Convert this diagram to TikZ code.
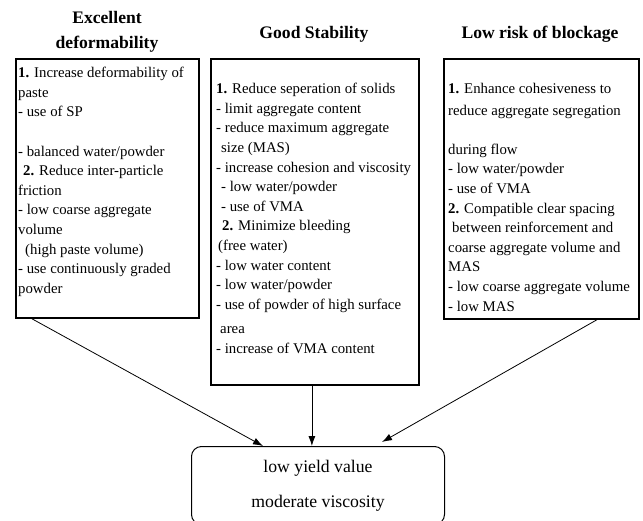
\documentclass[tikz,border=0pt]{standalone}
\usepackage{fontspec}
\setmainfont{Liberation Serif}
\usepackage{tikz}
\usetikzlibrary{arrows.meta,positioning,calc}

\begin{document}
\begin{tikzpicture}[>=Latex, x=1pt, y=1pt,
  panel/.style={draw, line width=1.8pt, inner sep=0pt, anchor=north west},
  heading/.style={font=\fontsize{17.6}{25}\selectfont\bfseries, align=center, inner sep=0pt},
  items/.style={font=\fontsize{14.8}{19.6}\selectfont, align=left, inner sep=0pt, anchor=north west},
  outcome/.style={draw, line width=1pt, rounded corners=10pt, anchor=north west,
    align=center, font=\fontsize{17.7}{35}\selectfont},
  link/.style={-{Latex[length=10pt,width=7pt]}, line width=0.8pt}]
  \useasboundingbox (0,0) rectangle (643,-520);
  \node[heading] (deftitle) at (107,-32) {Excellent\\deformability};
  \node[heading] (stabtitle) at (314,-34.5) {Good Stability};
  \node[heading] (blocktitle) at (540,-34.5) {Low risk of blockage};
  \node[panel, minimum width=183pt, minimum height=259pt] (defbox) at (15,-58) {};
  \node[panel, minimum width=208pt, minimum height=326pt] (stabbox) at (210,-58) {};
  \node[panel, minimum width=195pt, minimum height=260pt] (blockbox) at (443,-58) {};
  \node[items] (deftext) at (18,-67) {{\bfseries 1.} Increase deformability of\\
    paste\\
    - use of SP\\[19.6pt]
    - balanced water/powder\\
    \hspace*{5pt}{\bfseries 2.} Reduce inter-particle\\
    friction\\
    - low coarse aggregate\\
    volume\\
    \hspace*{7pt}(high paste volume)\\
    - use continuously graded\\
    powder};
  \node[items] (stabtext) at (216,-83) {{\bfseries 1.} Reduce seperation of solids\\
    - limit aggregate content\\
    - reduce maximum aggregate\\
    \hspace*{5pt}size (MAS)\\
    - increase cohesion and viscosity\\
    \hspace*{5pt}- low water/powder\\
    \hspace*{5pt}- use of VMA\\
    \hspace*{6pt}{\bfseries 2.} Minimize bleeding\\
    \hspace*{2pt}(free water)\\
    - low water content\\
    - low water/powder\\
    - use of powder of high surface\\[5pt]
    \hspace*{4pt}area\\
    - increase of VMA content};
  \node[items] (blocktext) at (448,-83) {{\bfseries 1.} Enhance cohesiveness to\\[2pt]
    reduce aggregate segregation\\[19.6pt]
    during flow\\
    - low water/powder\\
    - use of VMA\\
    {\bfseries 2.} Compatible clear spacing\\
    \hspace*{4pt}between reinforcement and\\
    coarse aggregate volume and\\
    MAS\\
    - low coarse aggregate volume\\
    - low MAS};
  \node[outcome, minimum width=253pt, minimum height=78pt] (result) at (191,-446)
    {low yield value\\moderate viscosity};
  \draw[link] ([xshift=17pt]defbox.south west) -- ([xshift=72pt]result.north west);
  \draw[link] ([xshift=-3pt]stabbox.south) -- ([xshift=-3pt]stabbox.south |- result.north);
  \draw[link] ([xshift=-43pt]blockbox.south east) -- ([xshift=191pt,yshift=4pt]result.north west);
\end{tikzpicture}
\end{document}
